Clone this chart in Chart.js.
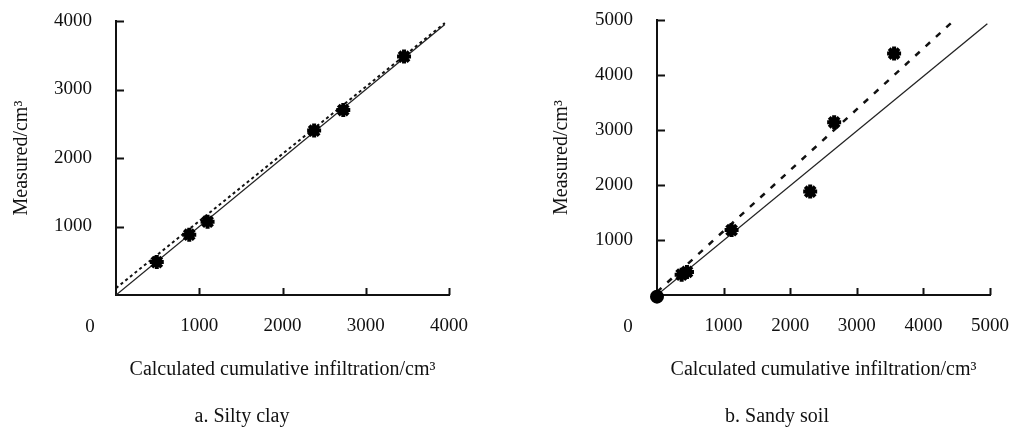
<!DOCTYPE html>
<html>
<head>
<meta charset="utf-8">
<script src="https://cdn.jsdelivr.net/npm/chart.js@4"></script>
<style>
  html, body { margin: 0; padding: 0; background: #fff; }
  #wrap { position: relative; width: 1010px; height: 430px; }
  .cv { position: absolute; top: 0; width: 505px; height: 430px; }
  #cA { left: 0; }
  #cB { left: 505px; }
</style>
</head>
<body>
<div id="wrap">
  <div class="cv" id="cA"><canvas id="chartA"></canvas></div>
  <div class="cv" id="cB"><canvas id="chartB"></canvas></div>
</div>
<script>
// ---- Data: (a) Silty clay ----
const siltyX = [490, 880, 1100, 2380, 2730, 3460];
const siltyY = [480, 880, 1070, 2400, 2700, 3480];
const siltyOneToOneX = [0, 3950];
const siltyOneToOneY = [0, 3950];
const siltyFitX = [0, 3950];
const siltyFitY = [100, 3970];
const siltyTicks = [0, 1000, 2000, 3000, 4000];

// ---- Data: (b) Sandy soil ----
const sandyX = [0, 370, 450, 1120, 2300, 2660, 3560];
const sandyY = [-30, 370, 420, 1180, 1880, 3140, 4390];
const sandyOneToOneX = [0, 4960];
const sandyOneToOneY = [0, 4930];
const sandyFitX = [0, 4430];
const sandyFitY = [55, 4960];
const sandyTicks = [0, 1000, 2000, 3000, 4000, 5000];

const xTitle = 'Calculated cumulative infiltration/cm\u00B3';
const yTitle = 'Measured/cm\u00B3';
const captionA = 'a. Silty clay';
const captionB = 'b. Sandy soil';

const FONT = "'Liberation Serif', 'Times New Roman', serif";
const TICK_SIZE = 19;

function pts(xs, ys) { return xs.map((x, i) => ({x: x, y: ys[i]})); }

function zeroPad(s) {
  s.paddingTop = 0; s.paddingBottom = 0; s.paddingLeft = 0; s.paddingRight = 0;
}

const decoPlugin = {
  id: 'deco',
  afterDraw(chart, args, opts) {
    const ctx = chart.ctx;
    const xs = chart.scales.x, ys = chart.scales.y;
    const area = chart.chartArea;
    ctx.save();
    ctx.strokeStyle = '#111';
    ctx.lineWidth = 2;
    ctx.beginPath();
    xs.ticks.forEach(t => {
      if (t.value === 0) return;
      const px = Math.round(xs.getPixelForValue(t.value)) + 0.5;
      ctx.moveTo(px, area.bottom);
      ctx.lineTo(px, area.bottom - 7);
    });
    ys.ticks.forEach(t => {
      if (t.value === 0) return;
      const py = Math.round(ys.getPixelForValue(t.value)) + 0.5;
      ctx.moveTo(area.left, py);
      ctx.lineTo(area.left + 8, py);
    });
    ctx.stroke();
    ctx.fillStyle = '#111';
    ctx.font = TICK_SIZE + 'px ' + FONT;
    ctx.textAlign = 'center';
    ctx.textBaseline = 'middle';
    ctx.fillText('0', area.left - opts.zeroDx, 327);
    ctx.font = '20px ' + FONT;
    ctx.fillText(opts.caption, opts.captionX, 417);
    ctx.restore();
  }
};

function makeChart(id, cfg) {
  const ticksArr = cfg.ticks;
  return new Chart(document.getElementById(id), {
    type: 'scatter',
    data: {
      datasets: [
        {
          data: pts(cfg.oneX, cfg.oneY), showLine: true, pointRadius: 0,
          borderColor: '#222', borderWidth: 1.3, order: 3
        },
        {
          data: pts(cfg.fitX, cfg.fitY), showLine: true, pointRadius: 0,
          borderColor: '#111', borderWidth: cfg.dashW, borderDash: cfg.dash, order: 2
        },
        {
          data: pts(cfg.px, cfg.py), showLine: false,
          pointStyle: cfg.pointStyles, pointRadius: cfg.pointRadii,
          backgroundColor: '#000', borderColor: '#000', borderWidth: 4,
          clip: false, order: 1
        }
      ]
    },
    options: {
      responsive: true,
      maintainAspectRatio: false,
      animation: false,
      events: [],
      layout: { padding: cfg.padding },
      plugins: {
        legend: { display: false },
        tooltip: { enabled: false },
        deco: { caption: cfg.caption, captionX: cfg.captionX, zeroDx: cfg.zeroDx }
      },
      scales: {
        x: {
          type: 'linear', min: ticksArr[0], max: ticksArr[ticksArr.length - 1],
          afterBuildTicks: s => { s.ticks = ticksArr.map(v => ({value: v})); },
          afterFit: s => { s.height = 87; zeroPad(s); },
          grid: { display: false, drawTicks: false },
          border: { display: true, color: '#111', width: 2 },
          ticks: {
            padding: 20, color: '#111', maxRotation: 0,
            font: { family: FONT, size: TICK_SIZE },
            callback: v => (v === 0 ? '' : String(v))
          },
          title: {
            display: true, text: xTitle, color: '#111',
            font: { family: FONT, size: 20 }, padding: { top: 0, bottom: 0 }
          }
        },
        y: {
          type: 'linear', min: ticksArr[0], max: ticksArr[ticksArr.length - 1],
          afterBuildTicks: s => { s.ticks = ticksArr.map(v => ({value: v})); },
          afterFit: s => { s.width = cfg.yWidth; zeroPad(s); },
          grid: { display: false, drawTicks: false },
          border: { display: true, color: '#111', width: 2 },
          ticks: {
            padding: 24, color: '#111',
            font: { family: FONT, size: TICK_SIZE },
            callback: v => (v === 0 ? '' : String(v))
          },
          title: {
            display: true, text: yTitle, color: '#111',
            font: { family: FONT, size: 20 }, padding: { top: cfg.yTitlePad, bottom: 0 }
          }
        }
      }
    },
    plugins: [decoPlugin]
  });
}

makeChart('chartA', {
  px: siltyX, py: siltyY,
  pointStyles: siltyX.map(() => 'star'),
  pointRadii: siltyX.map(() => 7),
  oneX: siltyOneToOneX, oneY: siltyOneToOneY,
  fitX: siltyFitX, fitY: siltyFitY,
  dash: [3, 3], dashW: 2,
  ticks: siltyTicks,
  padding: { left: 0, top: 21, right: 56, bottom: 48 },
  yWidth: 116, yTitlePad: 10,
  caption: captionA, captionX: 242, zeroDx: 26
});

makeChart('chartB', {
  px: sandyX, py: sandyY,
  pointStyles: sandyX.map((v, i) => (i === 0 ? 'circle' : 'star')),
  pointRadii: sandyX.map((v, i) => (i === 0 ? 5 : 7)),
  oneX: sandyOneToOneX, oneY: sandyOneToOneY,
  fitX: sandyFitX, fitY: sandyFitY,
  dash: [6, 8], dashW: 2.5,
  ticks: sandyTicks,
  padding: { left: 0, top: 20, right: 20, bottom: 48 },
  yWidth: 152, yTitlePad: 45,
  caption: captionB, captionX: 777 - 505, zeroDx: 29
});
</script>
</body>
</html>
